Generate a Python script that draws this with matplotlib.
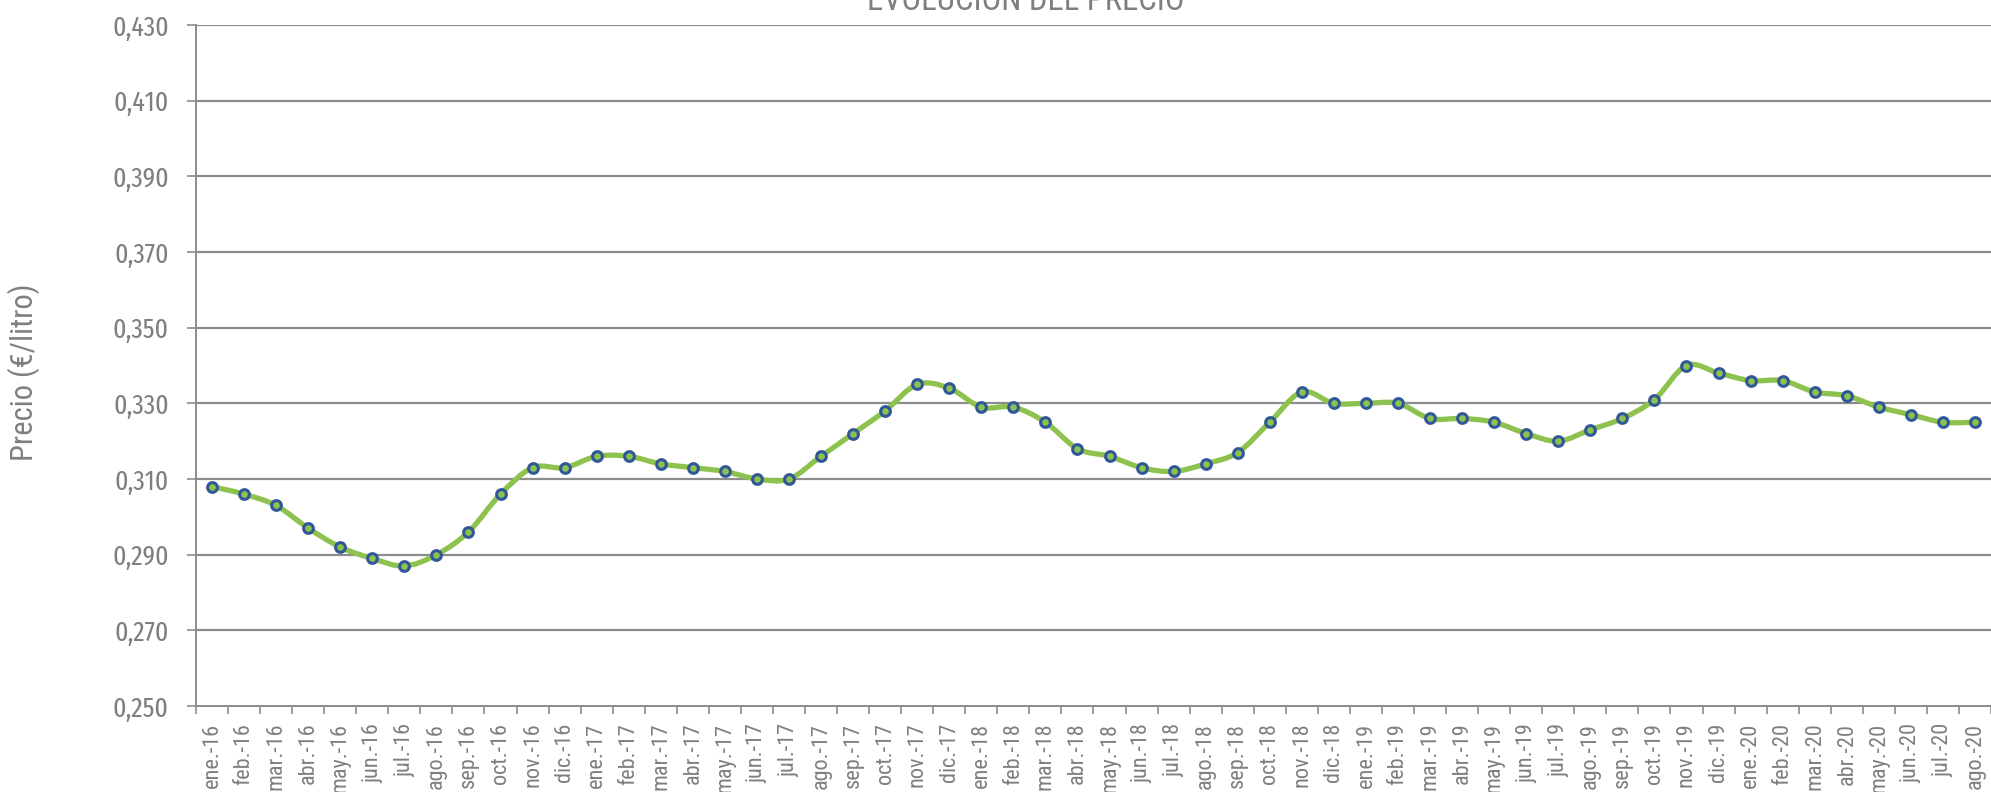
import matplotlib
matplotlib.use("Agg")
import matplotlib.pyplot as plt
from matplotlib.path import Path
from matplotlib.patches import PathPatch
import numpy as np

months = ["ene.", "feb.", "mar.", "abr.", "may.", "jun.",
          "jul.", "ago.", "sep.", "oct.", "nov.", "dic."]
years = ["16", "17", "18", "19", "20"]
labels = [f"{m}-{y}" for y in years for m in months][:56]

precio = [0.308, 0.306, 0.303, 0.297, 0.292, 0.289, 0.287, 0.290, 0.296, 0.306, 0.313, 0.313,
          0.316, 0.316, 0.314, 0.313, 0.312, 0.310, 0.310, 0.316, 0.322, 0.328, 0.335, 0.334,
          0.329, 0.329, 0.325, 0.318, 0.316, 0.313, 0.312, 0.314, 0.317, 0.325, 0.333, 0.330,
          0.330, 0.330, 0.326, 0.326, 0.325, 0.322, 0.320, 0.323, 0.326, 0.331, 0.340, 0.338,
          0.336, 0.336, 0.333, 0.332, 0.329, 0.327, 0.325, 0.325]

yticks = [0.250, 0.270, 0.290, 0.310, 0.330, 0.350, 0.370, 0.390, 0.410, 0.430]

GRAY = "#8c8c8c"
TXT = "#7f7f7f"
GREEN = "#8dc24f"
BLUE = "#30579a"

plt.rcParams["font.family"] = ["Roboto Condensed", "DejaVu Sans"]
NARROW = ["Fira Sans Extra Condensed", "Roboto Condensed", "DejaVu Sans"]


def smooth_path(x, y):
  # excel-like smoothed line: cubic bezier segments through every point
  pts = np.column_stack([x, y])
  n = len(pts)
  verts = [pts[0]]
  codes = [Path.MOVETO]
  for i in range(n - 1):
    p0 = pts[i - 1] if i > 0 else pts[i]
    p1 = pts[i]
    p2 = pts[i + 1]
    p3 = pts[i + 2] if i + 2 < n else pts[i + 1]
    c1 = p1 + (p2 - p0) / 6
    c2 = p2 - (p3 - p1) / 6
    verts += [c1, c2, p2]
    codes += [Path.CURVE4] * 3
  return Path(verts, codes)


def main():
  fig = plt.figure(figsize=(19.91, 7.92), dpi=100)
  ax = fig.add_axes([196 / 1991, 1 - 706 / 792, 1 - 196 / 1991, (706 - 25) / 792])

  x = np.arange(len(precio))
  y = np.array(precio)

  # grid
  for t in yticks[1:]:
    ax.axhline(t, color=GRAY, lw=1.6, zorder=1)

  # smoothed line
  patch = PathPatch(smooth_path(x, y), facecolor="none", edgecolor=GREEN,
                    lw=3.8, capstyle="round", joinstyle="round", zorder=3)
  ax.add_patch(patch)
  # markers
  ax.plot(x, y, ls="none", marker="o", ms=7, mfc=GREEN, mec=BLUE, mew=2.2, zorder=4)

  ax.set_xlim(-0.5, len(precio) - 0.5)
  ax.set_ylim(0.250, 0.430)

  ax.set_yticks(yticks)
  ax.set_yticklabels([f"{t:.3f}".replace(".", ",") for t in yticks], family=NARROW)
  ax.set_xticks(x)
  ax.set_xticklabels(labels, rotation=90, va="top", ha="center")
  ax.set_xticks(np.arange(-0.5, len(precio), 1), minor=True)

  ax.tick_params(axis="y", length=6.5, width=1.2, color=GRAY, labelcolor=TXT,
                 labelsize=20, pad=13)
  ax.tick_params(axis="x", which="major", length=0, labelcolor=TXT, labelsize=16, pad=12)
  ax.tick_params(axis="x", which="minor", length=6, width=1.2, color=GRAY)

  for side in ["top", "right"]:
    ax.spines[side].set_visible(False)
  for side in ["left", "bottom"]:
    ax.spines[side].set_color(GRAY)
    ax.spines[side].set_linewidth(1.4)

  fig.text(24 / 1991, 1 - 372 / 792, "Precio (€/litro)", rotation=90,
           ha="center", va="center", color=TXT, fontsize=22)
  fig.text(1026 / 1991, 1 - 10 / 792, "EVOLUCIÓN DEL PRECIO", ha="center",
           va="baseline", color=TXT, fontsize=23.5)

  fig.savefig("out.png", dpi=100)


if __name__ == "__main__":
  main()
